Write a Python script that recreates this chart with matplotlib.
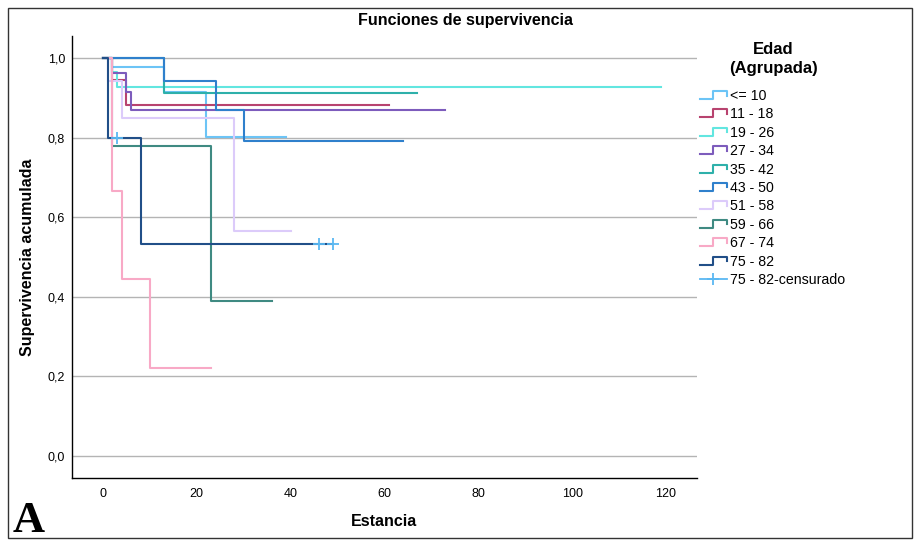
import matplotlib
matplotlib.use("Agg")
import matplotlib.pyplot as plt
from matplotlib.lines import Line2D
from matplotlib.legend_handler import HandlerBase
from matplotlib.patches import Rectangle
from matplotlib.ticker import FuncFormatter

# ---- data ------------------------------------------------------------------
GROUPS = ["<= 10", "11 - 18", "19 - 26", "27 - 34", "35 - 42", "43 - 50",
          "51 - 58", "59 - 66", "67 - 74", "75 - 82"]
COLORS = ["#6cc4f6", "#b8436f", "#62e6e0", "#7d5cbc", "#2eb0aa", "#2f80cc",
          "#dccbfa", "#3f8a82", "#f8a9c6", "#214f88"]

T_LE10 = [0, 2, 13, 22, 39]
S_LE10 = [1.0, 0.978, 0.915, 0.802, 0.802]
T_11_18 = [0, 2, 5, 61]
S_11_18 = [1.0, 0.944, 0.882, 0.882]
T_19_26 = [0, 2, 3, 119]
S_19_26 = [1.0, 0.964, 0.928, 0.928]
T_27_34 = [0, 2, 5, 6, 73]
S_27_34 = [1.0, 0.961, 0.915, 0.869, 0.869]
T_35_42 = [0, 13, 67]
S_35_42 = [1.0, 0.911, 0.911]
T_43_50 = [0, 13, 24, 30, 64]
S_43_50 = [1.0, 0.941, 0.869, 0.792, 0.792]
T_51_58 = [0, 1, 4, 28, 40]
S_51_58 = [1.0, 0.943, 0.848, 0.566, 0.566]
T_59_66 = [0, 2, 23, 36]
S_59_66 = [1.0, 0.778, 0.389, 0.389]
T_67_74 = [0, 2, 4, 10, 23]
S_67_74 = [1.0, 0.667, 0.444, 0.222, 0.222]
T_75_82 = [0, 1, 8, 49]
S_75_82 = [1.0, 0.800, 0.533, 0.533]

CENS_T = [3, 46, 49]          # censored cases, group 75 - 82
CENS_S = [0.800, 0.533, 0.533]
CENS_COLOR = "#5ab8f2"
CENS_LABEL = "75 - 82-censurado"

CURVES = [(T_LE10, S_LE10), (T_11_18, S_11_18), (T_19_26, S_19_26),
          (T_27_34, S_27_34), (T_35_42, S_35_42), (T_43_50, S_43_50),
          (T_51_58, S_51_58), (T_59_66, S_59_66), (T_67_74, S_67_74),
          (T_75_82, S_75_82)]

XTICKS = [0, 20, 40, 60, 80, 100, 120]
YTICKS = [0.0, 0.2, 0.4, 0.6, 0.8, 1.0]

plt.rcParams.update({"font.family": ["Liberation Sans", "DejaVu Sans"]})


class HandlerStep(HandlerBase):
    """SPSS-like step icon for the legend."""
    def create_artists(self, legend, orig_handle, xd, yd, w, h, fontsize, trans):
        xs = [xd, xd + 0.5 * w, xd + 0.5 * w, xd + w, xd + w]
        ys = [yd + 0.1 * h, yd + 0.1 * h, yd + 0.9 * h, yd + 0.9 * h, yd + 0.45 * h]
        ln = Line2D(xs, ys, color=orig_handle.get_color(), lw=orig_handle.get_linewidth())
        ln.set_transform(trans)
        return [ln]


fig = plt.figure(figsize=(9.15, 5.4), dpi=100)
ax = fig.add_axes([72 / 915, 62 / 540, 625 / 915, 442 / 540])

handles = []
for (t, s), col, lab in zip(CURVES, COLORS, GROUPS):
    ln, = ax.step(t, s, where="post", color=col, lw=1.5, label=lab)
    handles.append(ln)
ax.plot(CENS_T, CENS_S, ls="none", marker="+", ms=8, mew=1.3,
        color=CENS_COLOR, label=CENS_LABEL, zorder=5)

ax.set_xlim(-6.6, 126.6)
ax.set_ylim(-0.055, 1.055)
ax.set_xticks(XTICKS)
ax.set_yticks(YTICKS)
ax.yaxis.set_major_formatter(FuncFormatter(lambda v, _: f"{v:.1f}".replace(".", ",")))
ax.tick_params(axis="both", length=0, labelsize=9)
ax.tick_params(axis="y", pad=5)
ax.tick_params(axis="x", pad=7)
ax.yaxis.grid(True, color="#b4b4b4", lw=1.0)
ax.set_axisbelow(True)
for side in ("top", "right"):
    ax.spines[side].set_visible(False)
for side in ("bottom", "left"):
    ax.spines[side].set_color("black")
    ax.spines[side].set_linewidth(1.0)

ax.set_xlabel("Estancia", fontsize=11.5, fontweight="bold", labelpad=10)
ax.set_ylabel("Supervivencia acumulada", fontsize=11.5, fontweight="bold", labelpad=9)
fig.text(465 / 915, 1 - 20 / 540, "Funciones de supervivencia", ha="center", va="center",
         fontsize=11.5, fontweight="bold")
fig.text(13 / 915, 1 - 521 / 540, "A", ha="left", va="center", fontsize=32,
         fontweight="bold", family="Liberation Serif")

# legend: title as separate centred text, entries below
fig.text(773 / 915, 1 - 59 / 540, "Edad\n(Agrupada)", ha="center", va="center",
         fontsize=12, fontweight="bold", linespacing=1.25, multialignment="center")
cens_proxy = Line2D([], [], color=CENS_COLOR, lw=1.3, marker="+", ms=9, mew=1.3)
hmap = {h: HandlerStep() for h in handles}
leg = fig.legend(handles + [cens_proxy], GROUPS + [CENS_LABEL], handler_map=hmap,
                 loc="upper left", bbox_to_anchor=(700 / 915, 1 - 89 / 540),
                 frameon=False, fontsize=10.2, borderpad=0, borderaxespad=0,
                 handlelength=1.9, handletextpad=0.2, labelspacing=0.31, numpoints=1)

fig.patches.append(Rectangle((8 / 915, 2 / 540), 904 / 915, 530 / 540, transform=fig.transFigure,
                             fill=False, edgecolor="#333333", lw=1.0))

fig.savefig("out.png", dpi=100)
